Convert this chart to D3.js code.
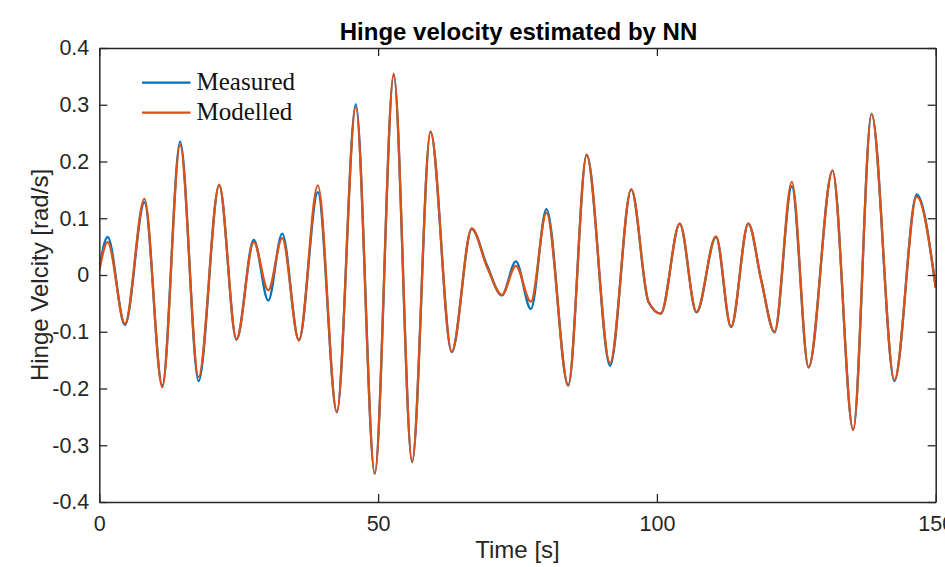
<!DOCTYPE html>
<html>
<head>
<meta charset="utf-8">
<script src="https://cdn.jsdelivr.net/npm/d3@7/dist/d3.min.js"></script>
<style>
  html, body { margin: 0; padding: 0; background: #fff; }
  svg { display: block; }
</style>
</head>
<body>
<svg id="chart" width="945" height="567"></svg>
<script>
// ---- Data ----
const timeS = [0, 1.5, 4.6, 8.1, 11.3, 14.5, 17.8, 21.5, 24.6, 27.7, 30.3, 32.8, 35.8,
  39.2, 42.6, 46.0, 49.4, 52.8, 56.1, 59.4, 63.2, 66.8, 69.5, 72.2, 74.7, 77.4,
  80.2, 84.1, 87.4, 91.6, 95.4, 98.5, 100.7, 104.1, 107.1, 110.6, 113.3, 116.4,
  118.7, 121.1, 124.2, 127.2, 131.5, 135.2, 138.5, 142.6, 146.6, 150];
const measured = [0.012, 0.067, -0.088, 0.128, -0.195, 0.235, -0.187, 0.158, -0.114, 0.062, -0.045, 0.073, -0.115,
  0.146, -0.242, 0.301, -0.350, 0.352, -0.330, 0.252, -0.136, 0.081, 0.018, -0.036, 0.024, -0.060,
  0.116, -0.195, 0.212, -0.160, 0.151, -0.048, -0.068, 0.090, -0.066, 0.067, -0.092, 0.090,
  -0.008, -0.101, 0.156, -0.163, 0.184, -0.273, 0.284, -0.187, 0.142, -0.022];
const modelled = [0.008, 0.058, -0.086, 0.134, -0.198, 0.229, -0.180, 0.159, -0.113, 0.058, -0.027, 0.065, -0.115,
  0.158, -0.241, 0.296, -0.350, 0.355, -0.329, 0.253, -0.135, 0.082, 0.015, -0.035, 0.016, -0.047,
  0.110, -0.194, 0.211, -0.155, 0.151, -0.047, -0.068, 0.091, -0.065, 0.068, -0.091, 0.091,
  -0.009, -0.100, 0.164, -0.162, 0.184, -0.273, 0.284, -0.185, 0.138, -0.023];
const xTicks = [0, 50, 100, 150];
const yTicks = [-0.4, -0.3, -0.2, -0.1, 0, 0.1, 0.2, 0.3, 0.4];
const seriesNames = ["Measured", "Modelled"];
const seriesColors = ["#0072BD", "#D95319"];
const titleText = "Hinge velocity estimated by NN";
const xLabel = "Time [s]";
const yLabel = "Hinge Velcity [rad/s]";

// ---- Layout ----
const plot = { left: 99.3, right: 935.7, top: 48, bottom: 502 };
const svg = d3.select("#chart");
const axisColor = "#262626";
const tickLen = 8;
const fontSans = "'Liberation Sans', Arial, sans-serif";

const x = d3.scaleLinear().domain([0, 150]).range([plot.left, plot.right]);
const y = d3.scaleLinear().domain([-0.4, 0.4]).range([plot.bottom, plot.top]);

svg.append("defs").append("clipPath").attr("id", "clip")
  .append("rect")
  .attr("x", plot.left).attr("y", plot.top)
  .attr("width", plot.right - plot.left).attr("height", plot.bottom - plot.top);

// ---- Lines ----
const seriesData = [measured, modelled];
const line = d3.line()
  .x(d => x(d[0]))
  .y(d => y(d[1]))
  .curve(d3.curveMonotoneX);

const lineG = svg.append("g").attr("clip-path", "url(#clip)");
seriesData.forEach((vals, i) => {
  lineG.append("path")
    .datum(timeS.map((t, k) => [t, vals[k]]))
    .attr("fill", "none")
    .attr("stroke", seriesColors[i])
    .attr("stroke-width", 2.3)
    .attr("stroke-linejoin", "round")
    .attr("d", line);
});

// ---- Axes (box with inward ticks) ----
const bottomAxis = d3.axisBottom(x).tickValues(xTicks).tickSizeInner(-tickLen).tickSizeOuter(0)
  .tickPadding(14).tickFormat(d3.format("d"));
const topAxis = d3.axisTop(x).tickValues(xTicks).tickSizeInner(-tickLen).tickSizeOuter(0).tickFormat("");
const leftAxis = d3.axisLeft(y).tickValues(yTicks).tickSizeInner(-tickLen).tickSizeOuter(0)
  .tickPadding(10).tickFormat(d => d === 0 ? "0" : d3.format(".1f")(d).replace("−", "-"));
const rightAxis = d3.axisRight(y).tickValues(yTicks).tickSizeInner(-tickLen).tickSizeOuter(0).tickFormat("");

function styleAxis(g) {
  g.select(".domain").attr("stroke", axisColor).attr("stroke-width", 1.5);
  g.selectAll(".tick line").attr("stroke", axisColor).attr("stroke-width", 1.3);
  g.selectAll(".tick text").attr("fill", axisColor)
    .style("font-family", fontSans).style("font-size", "21.5px");
}

svg.append("g").attr("transform", `translate(0,${plot.bottom})`).call(bottomAxis).call(styleAxis);
svg.append("g").attr("transform", `translate(0,${plot.top})`).call(topAxis).call(styleAxis);
svg.append("g").attr("transform", `translate(${plot.left},0)`).call(leftAxis).call(styleAxis);
svg.append("g").attr("transform", `translate(${plot.right},0)`).call(rightAxis).call(styleAxis);

// ---- Title and labels ----
const cx = (plot.left + plot.right) / 2;
svg.append("text")
  .attr("x", cx + 1).attr("y", 40)
  .attr("text-anchor", "middle")
  .style("font-family", fontSans).style("font-size", "24px").style("font-weight", "bold")
  .attr("fill", "#000")
  .text(titleText);

svg.append("text")
  .attr("x", cx).attr("y", 558)
  .attr("text-anchor", "middle")
  .style("font-family", fontSans).style("font-size", "24px")
  .attr("fill", axisColor)
  .text(xLabel);

svg.append("text")
  .attr("transform", `translate(48,${(plot.top + plot.bottom) / 2}) rotate(-90)`)
  .attr("text-anchor", "middle")
  .style("font-family", fontSans).style("font-size", "24px")
  .attr("fill", axisColor)
  .text(yLabel);

// ---- Legend ----
const legend = svg.append("g");
seriesNames.forEach((name, i) => {
  const ly = 82.7 + i * 30;
  legend.append("line")
    .attr("x1", 142).attr("x2", 190.5)
    .attr("y1", ly).attr("y2", ly)
    .attr("stroke", seriesColors[i]).attr("stroke-width", 2.3);
  legend.append("text")
    .attr("x", 196.5).attr("y", ly + 7)
    .style("font-family", "'Liberation Serif', 'Times New Roman', serif")
    .style("font-size", "25px")
    .attr("fill", "#111")
    .text(name);
});
</script>
</body>
</html>
